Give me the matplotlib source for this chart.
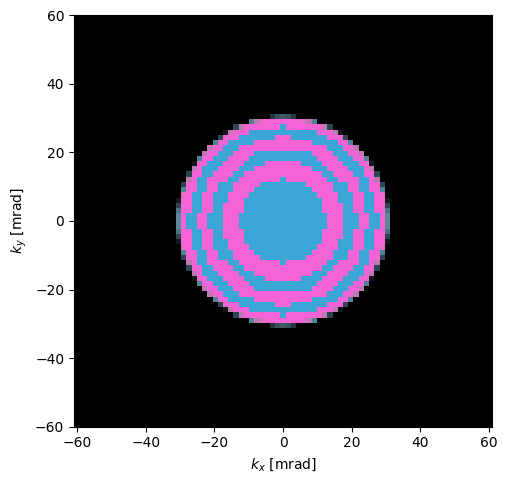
import numpy as np
import matplotlib
matplotlib.use("Agg")
import matplotlib.pyplot as plt
from matplotlib.colors import ListedColormap, BoundaryNorm

# Upper-right quadrant of the aperture, top row first, centre column first
quadrant_rows = [
    "abckkkkkkkkkkkkkkkkkk",
    "PPPPlmtkkkkkkkkkkkkkk",
    "BPPPPPPPmdkkkkkkkkkkk",
    "BBBBBBBPPPmnkkkkkkkkk",
    "PPBBBBBBBPPPdkkkkkkkk",
    "PPPPPPBBBBBPPtkkkkkkk",
    "PPPPPPPPPBBBPPmkkkkkk",
    "BBBBBBPPPPBBBPPmkkkkk",
    "BBBBBBBPPPPBBBPPtkkkk",
    "PPPPBBBBPPPPBBBPPnkkk",
    "PPPPPPBBBPPPPBBBPmkkk",
    "PPPPPPPPBBPPPPBBPPdkk",
    "BPPPPPPPPBBPPPPBBPmkk",
    "BBBBBPPPPPBBBPPBBPPdk",
    "BBBBBBPPPPBBBPPBBPPtk",
    "BBBBBBBPPPPBBBPPBBPlk",
    "BBBBBBBBPPPBBBPPBBPPn",
    "BBBBBBBBPPPPBBPPBBPPi",
    "BBBBBBBBPPPPBBPPBBPPh",
    "BBBBBBBBBPPPBBBPPBBPg",
    "BBBBBBBBBPPPBBBPPBBPg",
]
palette = {
    "k": "#000000", "P": "#F564D6", "B": "#3AA6D6",
    "l": "#E66CC8", "m": "#BE78B2", "t": "#4F8496", "d": "#2C4651",
    "n": "#12181B", "g": "#5F8898", "h": "#4D7080", "i": "#33464F",
    "a": "#3F5A64", "b": "#35505A", "c": "#25353B",
}
cell_mrad = 1.52
half_cells = 20.5
x_limit = 61
y_limit = 60
ticks = [-60, -40, -20, 0, 20, 40, 60]

codes = list(palette)
upper = np.array([[codes.index(c) for c in row] for row in quadrant_rows])
upper = np.hstack([upper[:, :0:-1], upper])
grid = np.vstack([upper, upper[-2::-1]])

fig = plt.figure(figsize=(5.07, 4.83), dpi=100)
ax = fig.add_axes([74 / 507, 1 - 427 / 483, 418 / 507, 412 / 483])
ax.set_facecolor("black")
cmap = ListedColormap([palette[c] for c in codes])
norm = BoundaryNorm(np.arange(len(codes) + 1) - 0.5, len(codes))
extent = half_cells * cell_mrad
ax.imshow(grid, cmap=cmap, norm=norm, interpolation="nearest",
          extent=[-extent, extent, -extent, extent], origin="upper")
ax.set_xlim(-x_limit, x_limit)
ax.set_ylim(-y_limit, y_limit)
ax.set_aspect("equal")
ax.set_xticks(ticks)
ax.set_yticks(ticks)
ax.set_xlabel(r"$k_x$ [mrad]")
ax.set_ylabel(r"$k_y$ [mrad]")
fig.savefig("out.png", dpi=100)
